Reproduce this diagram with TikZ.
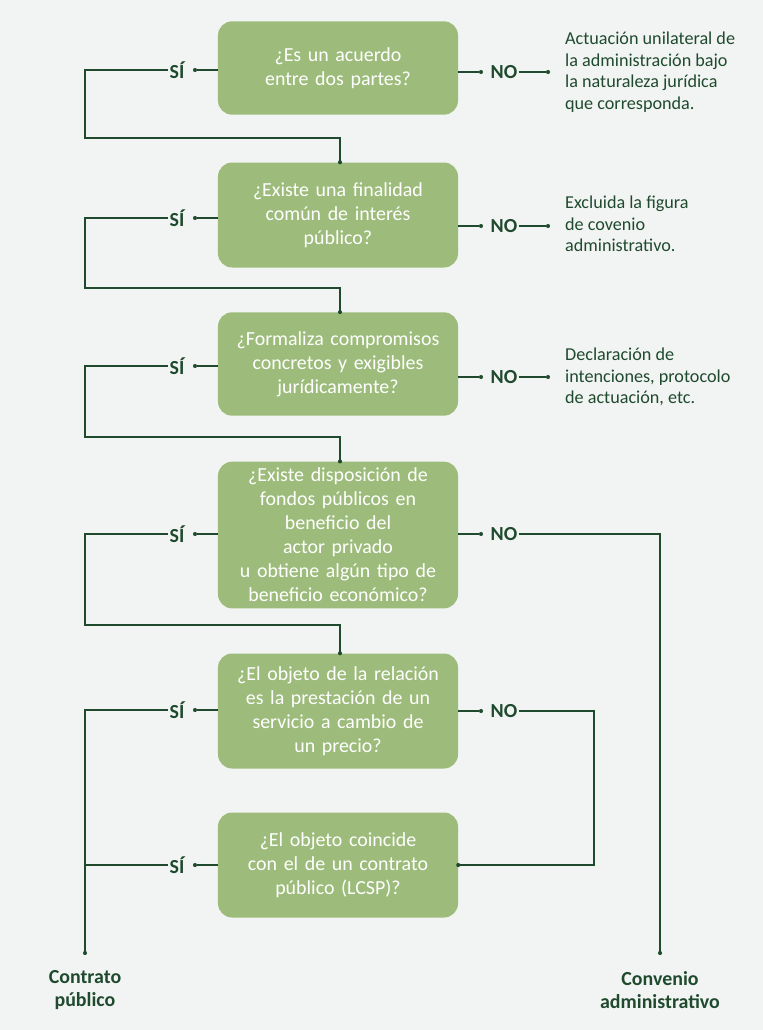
\documentclass[tikz,border=0pt]{standalone}
\usepackage{fontspec}
\setmainfont{Carlito}
\usetikzlibrary{positioning, calc}
\definecolor{boxgreen}{HTML}{9DBC7B}
\definecolor{darkgreen}{HTML}{1F4A2E}
\definecolor{paper}{HTML}{F2F4F3}
\begin{document}
\begin{tikzpicture}[
		x=0.03cm, y=-0.03cm,
		question/.style = {fill=boxgreen, rounded corners=12pt, text=white, align=center,
			minimum width=7.2cm, text width=6.6cm, font=\fontsize{17}{20.5}\selectfont},
		answer/.style = {text=darkgreen, font=\bfseries\fontsize{17}{20}\selectfont, inner sep=1pt},
		note/.style = {text=darkgreen, align=left, anchor=west, font=\fontsize{15.5}{18.5}\selectfont},
		result/.style = {text=darkgreen, align=center, font=\bfseries\fontsize{17}{20}\selectfont},
		link/.style = {draw=darkgreen, line width=1.3pt},
		dot/.style = {circle, fill=darkgreen, inner sep=0pt, minimum size=3.5pt}
	]
	\fill[paper] (0,0) rectangle (763,1030);
	\useasboundingbox (0,0) rectangle (763,1030);

	% questions
	\node[question, minimum height=2.8cm] (q1) at (338,68) {¿Es un acuerdo\\entre dos partes?};
	\node[question, minimum height=3.15cm] (q2) at (338,215) {¿Existe una finalidad\\común de interés\\público?};
	\node[question, minimum height=3.1cm] (q3) at (338,364) {¿Formaliza compromisos\\concretos y exigibles\\jurídicamente?};
	\node[question, minimum height=4.4cm] (q4) at (338,535) {¿Existe disposición de\\fondos públicos en\\beneficio del actor privado\\u obtiene algún tipo de\\beneficio económico?};
	\node[question, minimum height=3.45cm] (q5) at (338,711) {¿El objeto de la relación\\es la prestación de un\\servicio a cambio de\\un precio?};
	\node[question, minimum height=3.15cm] (q6) at (338,865) {¿El objeto coincide\\con el de un contrato\\público (LCSP)?};

	% answers
	\foreach \i/\y in {1/70, 2/218, 3/366, 4/534, 5/710, 6/865} {
		\node[answer] (si\i) at (177,\y) {SÍ};
		\node[dot] (sd\i) at (195,\y) {};
		\draw[link] (sd\i) -- (q\i.west |- sd\i);
	}
	\foreach \i/\y in {1/72, 2/226, 3/377, 4/534, 5/711} {
		\node[answer] (no\i) at (504,\y) {NO};
		\node[dot] (nd\i) at (481,\y) {};
		\draw[link] (q\i.east |- nd\i) -- (nd\i);
	}
	\foreach \i in {1,2,3} {
		\node[dot] (ne\i) at ($(no\i)+(44,0)$) {};
		\draw[link] (no\i.east) -- (ne\i);
	}

	% notes
	\node[note] (n1) at (561,72) {Actuación unilateral de\\la administración bajo\\la naturaleza jurídica\\que corresponda.};
	\node[note] (n2) at (561,224) {Excluida la figura\\de covenio\\administrativo.};
	\node[note] (n3) at (561,377) {Declaración de\\intenciones, protocolo\\de actuación, etc.};

	% results
	\node[result] (contrato) at (85,990) {Contrato\\público};
	\node[result] (convenio) at (660,990) {Convenio\\administrativo};
	\coordinate (cEnd) at (85,953);
	\coordinate (vEnd) at (660,953);
	\node[dot] at (cEnd) {};
	\node[dot] at (vEnd) {};

	% SÍ branches
	\foreach \i/\j/\y in {1/2/138, 2/3/288, 3/4/437, 4/5/625} {
		\draw[link] (si\i.west) -- (85,\y |- si\i) -- (85,\y) -- (340,\y) -- (340,\y |- q\j.north);
		\node[dot] at (340,\y |- q\j.north) {};
	}
	\draw[link] (si5.west) -- (85,710) -- (cEnd);
	\draw[link] (si6.west) -- (85,865);

	% NO branches
	\draw[link] (no4.east) -- (660,534) -- (vEnd);
	\draw[link] (no5.east) -- (594,711) -- (594,865) -- (q6.east |- 0,865);
	\node[dot] at (q6.east |- 0,865) {};
\end{tikzpicture}
\end{document}
